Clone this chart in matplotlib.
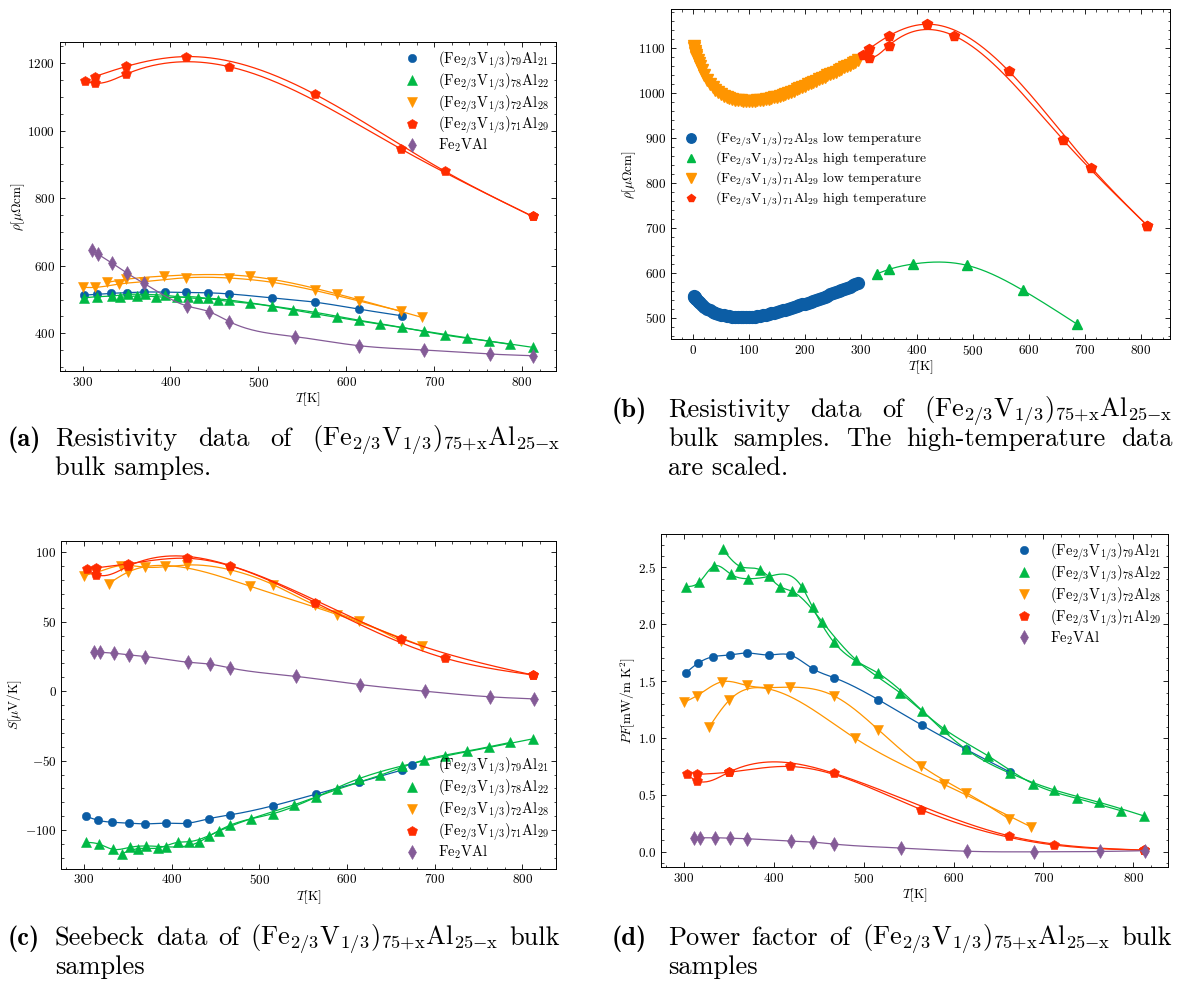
import numpy as np
import matplotlib
matplotlib.use('Agg')
import matplotlib.pyplot as plt

plt.rcParams.update({
    'font.family': 'serif',
    'font.serif': ['cmr10'],
    'mathtext.fontset': 'cm',
    'axes.formatter.use_mathtext': True,
    'axes.unicode_minus': True,
    'font.size': 9.5,
    'axes.labelpad': 0.5,
    'xtick.direction': 'in', 'ytick.direction': 'in',
    'xtick.top': True, 'ytick.right': True,
    'xtick.minor.visible': True, 'ytick.minor.visible': True,
    'xtick.major.size': 3.5, 'ytick.major.size': 3.5,
    'xtick.minor.size': 1.8, 'ytick.minor.size': 1.8,
    'xtick.major.width': 0.6, 'ytick.major.width': 0.6,
    'xtick.minor.width': 0.5, 'ytick.minor.width': 0.5,
    'axes.linewidth': 0.7,
})

# colours / markers (one per sample)
BLUE, GREEN, ORANGE, RED, PURPLE = '#0C5DA5', '#00B945', '#FF9500', '#FF2C00', '#845B97'

# temperatures [K] of the two measurement sweeps
T_blue = [302, 316, 332, 351, 370, 394, 418, 443, 467, 516, 565, 614, 663]
T_green_a = [302, 317, 333, 352, 371, 394, 431, 443, 467, 516, 565, 614, 663, 712, 762, 812]
T_green_b = [343, 362, 384, 407, 420, 454, 491, 540, 589, 638, 688, 737, 786]
T_orange_a = [300, 314, 342, 370, 418, 467, 516, 564, 614, 662]
T_orange_b = [328, 350, 393, 490, 589, 686]
T_red_a = [314, 350, 418, 564, 712, 812]
T_red_b = [303, 314, 350, 467, 662, 812]
T_purple = [311, 318, 334, 351, 370, 419, 444, 467, 542, 615, 689, 763, 813]

# (a) resistivity [uOhm cm]
rho_blue = [513.3, 515.3, 518.3, 520.3, 522.2, 522, 521.3, 520, 516.6, 504.8, 492, 471.9, 452]
rho_green_a = [505.4, 508.4, 510.4, 515.3, 515.3, 512.4, 503.5, 503.5, 498.5, 480.7, 462, 439, 417.7, 395, 377.2, 358.6]
rho_green_b = [506.5, 510.4, 508.4, 506.5, 508.4, 498.5, 488.6, 468.9, 447.3, 427.5, 406.8, 387, 367.5]
rho_orange_a = [536, 536, 546, 553, 564.5, 563.7, 551, 527, 496, 466]
rho_orange_b = [551, 560, 569.5, 568.6, 517, 447.3]
rho_red_a = [1160, 1190, 1219, 1108, 880, 746]
rho_red_b = [1146, 1140, 1167.5, 1189, 946, 746]
rho_purple = [646.4, 633.6, 607, 577.4, 547.8, 480.8, 464, 434.5, 390.2, 363.3, 350.6, 338.8, 333.7]

# (b) low temperature + scaled high temperature resistivity
T_low = [1, 2, 3, 4, 5, 6, 8, 10, 12, 15, 20, 25, 30, 35, 40, 45, 50, 55, 60, 65, 70, 75, 80, 85,
         90, 95, 100, 105, 110, 115, 120, 125, 130, 135, 140, 145, 150, 155, 160, 165, 170, 175,
         180, 185, 190, 195, 200, 205, 210, 215, 220, 225, 230, 235, 240, 245, 250, 255, 260, 265,
         270, 275, 280, 285, 290, 295]
rho_low_72 = [548, 547, 546, 544.5, 543, 541.5, 538.5, 535.5, 533, 529.5, 524.5, 520.5, 517, 514,
              511.5, 509.5, 507.5, 506, 504.8, 503.8, 503, 502.4, 502, 501.7, 501.6, 501.7, 502,
              502.6, 503.3, 504.2, 505.2, 506.3, 507.5, 508.8, 510.2, 511.7, 513.3, 515, 516.7,
              518.5, 520.3, 522.2, 524.1, 526.1, 528.1, 530.1, 532.2, 534.3, 536.5, 538.7, 540.9,
              543.1, 545.4, 547.7, 550, 552.4, 554.8, 557.2, 559.6, 562, 564.5, 567, 569.6, 572.3,
              575, 577.8]
rho_low_71 = [1105, 1100, 1094, 1089, 1085, 1081, 1073, 1066, 1060, 1052, 1040, 1030, 1020, 1013,
              1007, 1002, 998, 994.5, 991.5, 989, 987, 985.5, 984.5, 983.7, 983.2, 983, 983, 983,
              983.3, 983.8, 984.4, 985.2, 986.2, 987.5, 989, 990.7, 992.5, 994.4, 996.5, 998.7,
              1001, 1003.4, 1005.9, 1008.5, 1011.2, 1014, 1016.8, 1019.6, 1022.4, 1025.2, 1028,
              1030.8, 1033.6, 1036.4, 1039.3, 1042.2, 1045.1, 1048, 1051, 1054, 1057.2, 1060.4,
              1063.7, 1067, 1070.4, 1073.8]
rho_high_72 = [598, 608, 620, 617, 562, 486.6]
rho_high_71_a = [1098.5, 1127.4, 1153.4, 1049.6, 834.5, 705.5]
rho_high_71_b = [1085, 1079, 1106, 1127.4, 895.3, 705.5]

# (c) Seebeck [uV/K]
S_blue = [-89.8, -92.9, -94.3, -95, -95.5, -95, -95, -91.7, -89, -82.4, -74, -65.5, -56.7]
S_green_a = [-108.8, -110, -113.8, -112.4, -111.4, -112, -108.6, -104.3, -96.4, -88.1, -76.2, -62.9, -53.8, -46.7, -40.5, -34.3]
S_green_b = [-116.9, -113.3, -112.9, -108.8, -108.3, -100.7, -91.7, -81.7, -70.7, -60.5, -49.5, -43.1, -36.9]
S_orange_a = [83.3, 85.5, 90.5, 89.3, 90.9, 87.4, 76.7, 62, 50.5, 36]
S_orange_b = [77.4, 85.7, 90.5, 75.5, 55.2, 32.6]
S_red_a = [88.8, 91.7, 95.7, 63.8, 23.8, 11.7]
S_red_b = [88.1, 84, 89.8, 90.5, 37.9, 11.7]
S_purple = [28.6, 28.1, 27.4, 26.2, 25, 20.9, 19.5, 16.7, 10.7, 4.8, 0, -4, -5.5]

# (d) power factor [mW/m K^2]
PF_blue = [1.573, 1.66, 1.714, 1.73, 1.747, 1.73, 1.73, 1.61, 1.53, 1.338, 1.112, 0.90, 0.70]
PF_green_a = [2.33, 2.37, 2.51, 2.44, 2.40, 2.42, 2.33, 2.15, 1.84, 1.57, 1.24, 0.90, 0.69, 0.544, 0.435, 0.315]
PF_green_b = [2.66, 2.51, 2.48, 2.33, 2.29, 2.02, 1.69, 1.40, 1.083, 0.845, 0.60, 0.47, 0.362]
PF_orange_a = [1.315, 1.37, 1.494, 1.462, 1.447, 1.37, 1.075, 0.756, 0.52, 0.288]
PF_orange_b = [1.097, 1.33, 1.433, 1.0, 0.594, 0.22]
PF_red_a = [0.68, 0.70, 0.75, 0.37, 0.06, 0.015]
PF_red_b = [0.68, 0.625, 0.70, 0.69, 0.14, 0.015]
PF_purple = [0.124, 0.124, 0.124, 0.12, 0.115, 0.094, 0.085, 0.068, 0.033, 0.005, 0.0, 0.003, 0.01]

F = r'(\mathrm{Fe}_{2/3}\mathrm{V}_{1/3})'
labels = [r'$%s_{79}\mathrm{Al}_{21}$' % F, r'$%s_{78}\mathrm{Al}_{22}$' % F,
          r'$%s_{72}\mathrm{Al}_{28}$' % F, r'$%s_{71}\mathrm{Al}_{29}$' % F,
          r'$\mathrm{Fe_2VAl}$']
MARKERS = ['o', '^', 'v', 'p', 'd']
COLORS = [BLUE, GREEN, ORANGE, RED, PURPLE]
MS = [6, 6.5, 6.5, 7, 7]
LEG = dict(frameon=False, fontsize=10.5, handlelength=1.5, handletextpad=1.0, labelspacing=0.02,
           borderaxespad=0.1)


def smooth(x, y, n=300):
    # natural cubic spline through the measured points (for the guide line)
    x = np.asarray(x, float)
    y = np.asarray(y, float)
    m = len(x)
    h = np.diff(x)
    A = np.zeros((m, m))
    r = np.zeros(m)
    A[0, 0] = A[-1, -1] = 1
    for i in range(1, m - 1):
        A[i, i - 1], A[i, i], A[i, i + 1] = h[i - 1], 2 * (h[i - 1] + h[i]), h[i]
        r[i] = 3 * ((y[i + 1] - y[i]) / h[i] - (y[i] - y[i - 1]) / h[i - 1])
    c = np.linalg.solve(A, r)
    b = (y[1:] - y[:-1]) / h - h * (2 * c[:-1] + c[1:]) / 3
    d = (c[1:] - c[:-1]) / (3 * h)
    xs = np.linspace(x[0], x[-1], n)
    i = np.clip(np.searchsorted(x, xs) - 1, 0, m - 2)
    dx = xs - x[i]
    return xs, y[i] + b[i] * dx + c[i] * dx ** 2 + d[i] * dx ** 3


def draw(ax, k, sweeps):
    for j, (t, v) in enumerate(sweeps):
        xs, ys = smooth(t, v)
        ax.plot(xs, ys, color=COLORS[k], lw=0.9)
        ax.plot(t, v, ls='none', marker=MARKERS[k], ms=MS[k], color=COLORS[k], mew=0.4,
                label=labels[k] if j == 0 else None)


W, H = 1184, 982
fig = plt.figure(figsize=(W / 100, H / 100), dpi=100)


def px_axes(l, t, r, b):
    return fig.add_axes([l / W, 1 - b / H, (r - l) / W, (b - t) / H])


# (a)
ax = px_axes(60, 41.6, 556, 370.7)
draw(ax, 0, [(T_blue, rho_blue)])
draw(ax, 1, [(T_green_a, rho_green_a), (T_green_b, rho_green_b)])
draw(ax, 2, [(T_orange_a, rho_orange_a), (T_orange_b, rho_orange_b)])
draw(ax, 3, [(T_red_a, rho_red_a), (T_red_b, rho_red_b)])
draw(ax, 4, [(T_purple, rho_purple)])
ax.set_xlabel(r'$T[\mathrm{K}]$')
ax.set_ylabel(r'$\rho[\mu\Omega\mathrm{cm}]$')
ax.legend(loc='upper right', **LEG)

# (b)
ax = px_axes(671, 9.2, 1170, 339)
ax.plot(T_low, rho_low_72, ls='none', marker='o', ms=8.5, color=BLUE,
        label=r'$%s_{72}\mathrm{Al}_{28}$ low temperature' % F)
xs, ys = smooth(T_orange_b, rho_high_72)
ax.plot(xs, ys, color=GREEN, lw=0.9)
ax.plot(T_orange_b, rho_high_72, ls='none', marker='^', ms=6.5, color=GREEN,
        label=r'$%s_{72}\mathrm{Al}_{28}$ high temperature' % F)
ax.plot(T_low, rho_low_71, ls='none', marker='v', ms=8.5, color=ORANGE,
        label=r'$%s_{71}\mathrm{Al}_{29}$ low temperature' % F)
for t, v in [(T_red_a, rho_high_71_a), (T_red_b, rho_high_71_b)]:
    xs, ys = smooth(t, v)
    ax.plot(xs, ys, color=RED, lw=0.9)
ax.plot(T_red_a, rho_high_71_a, ls='none', marker='p', ms=7, color=RED,
        label=r'$%s_{71}\mathrm{Al}_{29}$ high temperature' % F)
ax.plot(T_red_b, rho_high_71_b, ls='none', marker='p', ms=7, color=RED)
ax.set_xlabel(r'$T[\mathrm{K}]$')
ax.set_ylabel(r'$\rho[\mu\Omega\mathrm{cm}]$')
leg_b = dict(LEG, fontsize=9.8, labelspacing=0.05, handlelength=2, handletextpad=0.7)
ax.legend(loc='upper left', bbox_to_anchor=(0.0, 0.655), markerscale=0.8, **leg_b)

# (c)
ax = px_axes(61.5, 541, 556, 868.5)
draw(ax, 0, [(T_blue, S_blue)])
draw(ax, 1, [(T_green_a, S_green_a), (T_green_b, S_green_b)])
draw(ax, 2, [(T_orange_a, S_orange_a), (T_orange_b, S_orange_b)])
draw(ax, 3, [(T_red_a, S_red_a), (T_red_b, S_red_b)])
draw(ax, 4, [(T_purple, S_purple)])
ax.set_xlabel(r'$T[\mathrm{K}]$')
ax.set_ylabel(r'$S[\mu\mathrm{V/K}]$')
ax.legend(loc='lower right', **LEG)

# (d)
ax = px_axes(661, 534, 1168, 867)
draw(ax, 0, [(T_blue, PF_blue)])
draw(ax, 1, [(T_green_a, PF_green_a), (T_green_b, PF_green_b)])
draw(ax, 2, [(T_orange_a, PF_orange_a), (T_orange_b, PF_orange_b)])
draw(ax, 3, [(T_red_a, PF_red_a), (T_red_b, PF_red_b)])
draw(ax, 4, [(T_purple, PF_purple)])
ax.set_xlabel(r'$T[\mathrm{K}]$')
ax.set_ylabel(r'$PF[\mathrm{mW/m\ K^2}]$')
ax.legend(loc='upper right', **LEG)

# captions (justified like the LaTeX subcaptions)
CAP = 19
LINE = 29
rend = fig.canvas.get_renderer()
FORM = r'$(\mathrm{Fe}_{2/3}\mathrm{V}_{1/3})_{\mathrm{75{+}x}}\mathrm{Al}_{\mathrm{25{-}x}}$'


def caption(tag, x_tag, x0, x1, y0, lines):
    fig.text(x_tag / W, 1 - y0 / H, tag, fontsize=CAP, va='baseline', family='cmb10')
    for k, (words, just) in enumerate(lines):
        y = 1 - (y0 + k * LINE) / H
        if not just:
            fig.text(x0 / W, y, ' '.join(words), fontsize=CAP, va='baseline')
            continue
        ts = [fig.text(0, y, w, fontsize=CAP, va='baseline') for w in words]
        ws = [t.get_window_extent(renderer=rend).width for t in ts]
        gap = (x1 - x0 - sum(ws)) / (len(ws) - 1)
        x = x0
        for t, w in zip(ts, ws):
            t.set_x(x / W)
            x += w + gap


caption('(a)', 8, 55, 560, 446,
        [(['Resistivity', 'data', 'of', FORM], True), (['bulk', 'samples.'], False)])
caption('(b)', 612, 668, 1172, 417,
        [(['Resistivity', 'data', 'of', FORM], True),
         (['bulk', 'samples.', 'The', 'high-temperature', 'data'], True),
         (['are', 'scaled.'], False)])
caption('(c)', 8, 55, 560, 945,
        [(['Seebeck', 'data', 'of', FORM, 'bulk'], True), (['samples'], False)])
caption('(d)', 612, 668, 1172, 945,
        [(['Power', 'factor', 'of', FORM, 'bulk'], True), (['samples'], False)])

fig.savefig('out.png', dpi=100)
